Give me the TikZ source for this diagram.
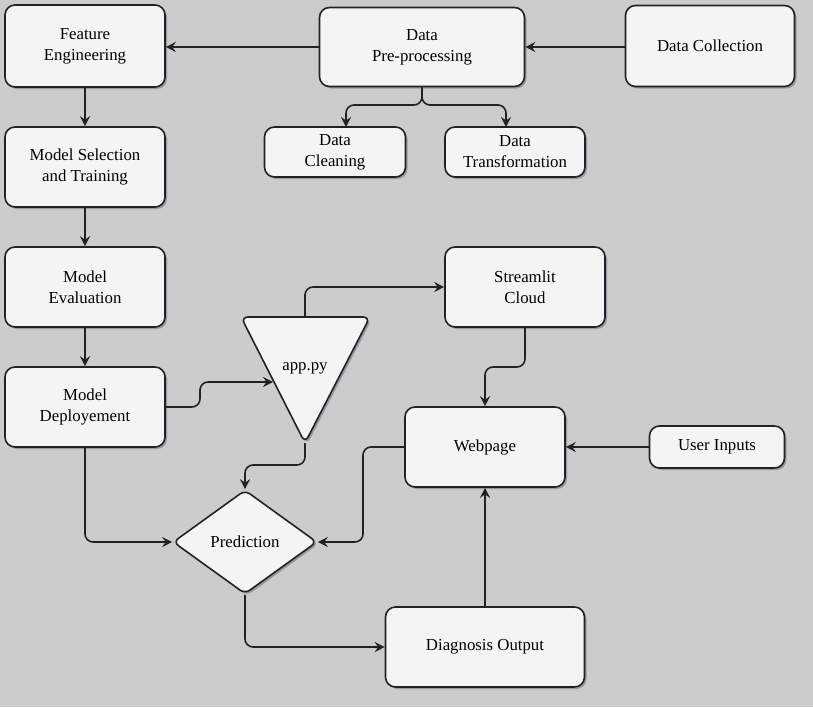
\documentclass[tikz,border=0pt]{standalone}
\usepackage{fontspec}
\setmainfont{Liberation Serif}
\usetikzlibrary{arrows.meta,shapes.geometric,shadows}
\definecolor{bg}{HTML}{CCCCCC}
\definecolor{nodefill}{HTML}{F4F4F4}
\definecolor{edge}{HTML}{222222}
\tikzset{
  x=1pt,y=-1pt,
  box/.style={draw=edge,line width=1.6pt,fill=nodefill,rounded corners=10pt,
    align=center,inner sep=0pt,font=\fontsize{16.8pt}{21pt}\selectfont,
    drop shadow={shadow xshift=2pt,shadow yshift=-2pt,opacity=0.25,fill=blue!20!black}},
  conn/.style={draw=edge,line width=1.6pt,rounded corners=8pt,-{Stealth[length=10pt,width=10pt,inset=3.5pt]}},
}
\begin{document}
\begin{tikzpicture}
\fill[bg] (0,0) rectangle (813,707);
\useasboundingbox (0,0) rectangle (813,707);

\node[box,minimum width=160pt,minimum height=82pt] (fe) at (85,46) {Feature\\Engineering};
\node[box,minimum width=205pt,minimum height=79pt] (pre) at (422,47) {Data\\Pre-processing};
\node[box,minimum width=169pt,minimum height=81pt] (dc) at (710,46) {Data Collection};
\node[box,minimum width=141pt,minimum height=50pt] (clean) at (335,152) {Data\\Cleaning};
\node[box,minimum width=140pt,minimum height=50pt] (trans) at (515,152) {Data\\Transformation};
\node[box,minimum width=160pt,minimum height=80pt] (ms) at (85,167) {Model Selection\\and Training};
\node[box,minimum width=160pt,minimum height=80pt] (me) at (85,287) {Model\\Evaluation};
\node[box,minimum width=160pt,minimum height=80pt] (md) at (85,407) {Model\\Deployement};
\node[box,minimum width=160pt,minimum height=80pt] (sc) at (525,287) {Streamlit\\Cloud};
\node[box,minimum width=160pt,minimum height=80pt] (web) at (485,447) {Webpage};
\node[box,minimum width=135pt,minimum height=42pt] (ui) at (717,447) {User Inputs};
\node[box,minimum width=199pt,minimum height=80pt] (diag) at (485,647) {Diagnosis Output};
\node[box,shape=diamond,rounded corners=6pt,minimum width=144pt,minimum height=104pt] (pred) at (245,542) {Prediction};

% app.py triangle
\filldraw[draw=edge,fill=nodefill,line width=1.6pt,rounded corners=7pt,
  drop shadow={shadow xshift=2pt,shadow yshift=-2pt,opacity=0.25,fill=blue!20!black}]
  (241,317) -- (370,317) -- (305,443) -- cycle;
\coordinate (apptop) at (305,317);
\coordinate (appleft) at (273,382);
\coordinate (appbot) at (305,443);
\node[font=\fontsize{16.8pt}{21pt}\selectfont] (app) at (305,368) {app.py};

% connectors
\draw[conn] (pre.west) -- (pre.west -| fe.east);
\draw[conn] (dc.west |- pre.east) -- (pre.east);
\draw[conn] (pre.south) -- (422,105) -| (346,127);
\draw[conn] (pre.south) -- (422,105) -| (506,127);
\draw[conn] (fe.south) -- (ms.north);
\draw[conn] (ms.south) -- (me.north);
\draw[conn] (me.south) -- (md.north);
\draw[conn] (md.east) -- (200,407) -- (200,382) -- (appleft);
\draw[conn] (apptop) -- (305,287) -- (sc.west);
\draw[conn] (sc.south) -- (525,367) -| (web.north);
\draw[conn] (ui.west) -- (web.east);
\draw[conn] (web.west) -| (363,542) -- (pred.east);
\draw[conn] (appbot) -- (305,465) -| (pred.north);
\draw[conn] (md.south) |- (pred.west);
\draw[conn] (pred.south) |- (diag.west);
\draw[conn] (diag.north) -- (web.south);
\end{tikzpicture}
\end{document}
